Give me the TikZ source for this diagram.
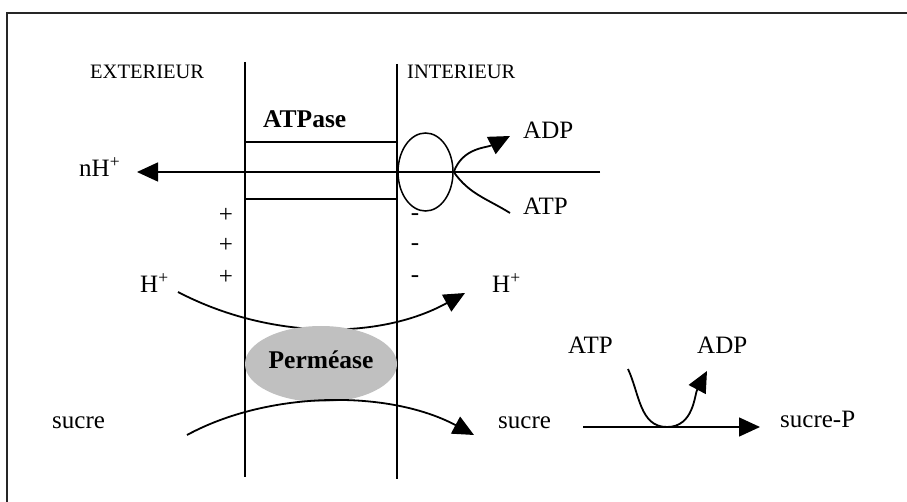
\documentclass[tikz,border=0pt]{standalone}
\usepackage{fontspec}
\setmainfont{Liberation Serif}
\usetikzlibrary{arrows.meta,shapes.geometric}
\definecolor{permgris}{RGB}{192,192,192}
\tikzset{
  lbl/.style={font=\fontsize{25}{29}\selectfont, inner sep=0pt},
  petit/.style={font=\fontsize{20.5}{24}\selectfont, inner sep=0pt},
  gras/.style={font=\fontsize{25.5}{29}\selectfont\bfseries, inner sep=0pt},
  trait/.style={line width=1.5pt},
  flux/.style={line width=1.8pt, -{Triangle[length=21pt,width=19pt]}},
}
\begin{document}
\begin{tikzpicture}[x=1pt,y=-1pt]
	\useasboundingbox (0,0) rectangle (907,502);
	% cadre
	\draw[line width=2.5pt, black!85] (7,530) -- (7,13) -- (930,13);
	
	% membrane
	\draw[trait] (245,62) -- (245,477);
	\draw[trait] (397,64) -- (397,479);
	\node[petit, anchor=base west] (ext) at (90,79) {EXTERIEUR};
	\node[petit, anchor=base west] (int) at (407,79) {INTERIEUR};
	
	% pompe ATPase
	\node[gras, anchor=base west] (atpase) at (263,128) {ATPase};
	\node[draw, trait, ellipse, minimum width=55, minimum height=78] (tete) at (425.5,172) {};
	\draw[trait] (398,142) -- (245,142) -- (245,199) -- (398,199);
	\draw[line width=2.5pt] (245,142) -- (245,199);
	\node[lbl, anchor=base west] (nH) at (79,177) {nH\textsuperscript{+}};
	\coordinate (bout) at (600,172);
	\coordinate (sortie) at (137,172);
	\draw[trait, -{Triangle[length=21pt,width=19pt]}] (bout) -- (sortie);
	\node[lbl, anchor=base west] (adp1) at (523,139) {ADP};
	\node[lbl, anchor=base west] (atp1) at (523,215) {ATP};
	\draw[flux] (tete.east) to[out=70, in=207] (510,136);
	\draw[line width=1.8pt] (tete.east) to[out=-55, in=148] (510,213);
	
	% charges
	\foreach \y [count=\i] in {223,253,285}{
		\node[lbl, anchor=base] (plus\i) at (226,\y) {+};
		\node[lbl, anchor=base] (moins\i) at (415,\y-2) {-};
	}
	
	% protons
	\node[lbl, anchor=base west] (hext) at (140,293) {H\textsuperscript{+}};
	\node[lbl, anchor=base west] (hint) at (492,293) {H\textsuperscript{+}};
	\coordinate (h0) at (178,292);
	\coordinate (h1) at (465,293);
	\draw[flux] (h0) .. controls (270,340) and (380,340) .. (h1);
	
	% permease
	\node[ellipse, fill=permgris, minimum width=152, minimum height=76] (perm) at (321,364) {};
	\node[gras, anchor=base] (permtxt) at (321,368) {Perméase};
	\node[lbl, anchor=base west] (sext) at (52,428) {sucre};
	\node[lbl, anchor=base west] (sint) at (498,428) {sucre};
	\coordinate (s0) at (187,435);
	\coordinate (s1) at (474,435);
	\draw[flux] (s0) .. controls (270,390) and (390,390) .. (s1);
	
	% phosphorylation
	\node[lbl, anchor=base west] (atp2) at (568,353) {ATP};
	\node[lbl, anchor=base west] (adp2) at (697,353) {ADP};
	\node[lbl, anchor=base west] (sp) at (780,427) {sucre-P};
	\coordinate (p0) at (583,427);
	\coordinate (p1) at (760,427);
	\coordinate (fond) at (667,427);
	\draw[trait, -{Triangle[length=21pt,width=19pt]}] (p0) -- (p1);
	\draw[flux] (628,369) to[out=-65, in=180] (fond) to[out=0, in=-118] (707,371);
\end{tikzpicture}
\end{document}
